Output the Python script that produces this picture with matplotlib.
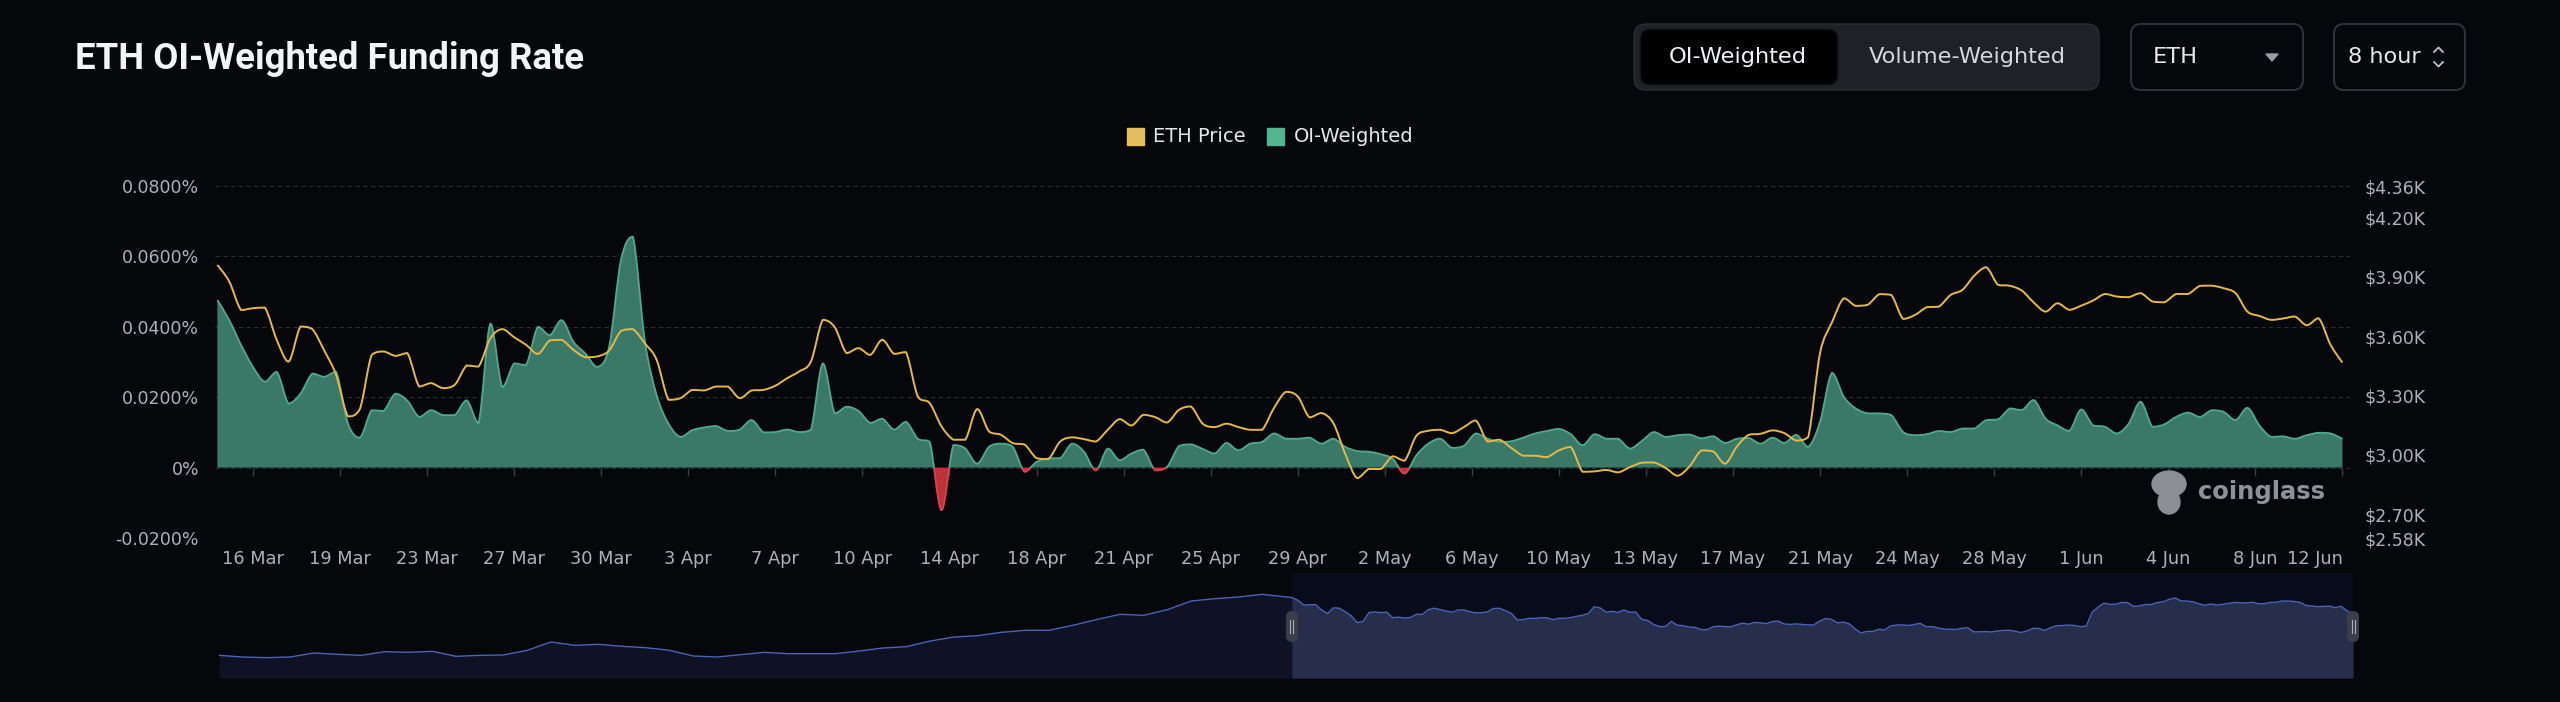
import matplotlib
matplotlib.use("Agg")
import matplotlib.pyplot as plt
import matplotlib.dates as mdates
from matplotlib.patches import FancyBboxPatch, Rectangle, PathPatch, Polygon, Ellipse
from matplotlib.path import Path
import numpy as np
import pandas as pd

# OI-weighted funding rate (% per 8h), one reading every 12 hours from 14 Mar 2024 12:00
funding = [
    0.0476, 0.0419, 0.0348, 0.0286, 0.0244, 0.0272, 0.0182, 0.0210, 0.0267, 0.0258,
    0.0272, 0.0125, 0.0085, 0.0163, 0.0161, 0.0210, 0.0190, 0.0144, 0.0163, 0.0149,
    0.0149, 0.0191, 0.0127, 0.0409, 0.0229, 0.0296, 0.0291, 0.0400, 0.0376, 0.0419,
    0.0357, 0.0324, 0.0286, 0.0343, 0.0590, 0.0656, 0.0362, 0.0206, 0.0125, 0.0087,
    0.0106, 0.0114, 0.0118, 0.0104, 0.0108, 0.0135, 0.0100,
    0.0101, 0.0108, 0.0101, 0.0108, 0.0296, 0.0154, 0.0173, 0.0161, 0.0127, 0.0139,
    0.0108, 0.0130, 0.0082, 0.0073, -0.0121, 0.0064, 0.0054, 0.0011, 0.0059, 0.0068,
    0.0059, -0.0012, 0.0016, 0.0026, 0.0027, 0.0068, 0.0045, -0.0008, 0.0054, 0.0021,
    0.0040, 0.0051, -0.0008, 0.0002, 0.0061, 0.0066, 0.0053, 0.0040, 0.0070, 0.0049,
    0.0068, 0.0073, 0.0097, 0.0082, 0.0082, 0.0085,
    0.0068, 0.0082, 0.0059, 0.0047, 0.0045, 0.0038, 0.0025, -0.0017, 0.0035, 0.0068,
    0.0082, 0.0056, 0.0062, 0.0097, 0.0082, 0.0073, 0.0075, 0.0085, 0.0097, 0.0104,
    0.0110, 0.0095, 0.0064, 0.0095, 0.0082, 0.0082, 0.0054, 0.0076, 0.0101, 0.0087,
    0.0092, 0.0094, 0.0083, 0.0089, 0.0070, 0.0082, 0.0084, 0.0068, 0.0085, 0.0070,
    0.0093, 0.0059, 0.0130, 0.0269, 0.0201, 0.0168,
    0.0154, 0.0154, 0.0149, 0.0101, 0.0092, 0.0095, 0.0104, 0.0101, 0.0111, 0.0111,
    0.0135, 0.0137, 0.0168, 0.0163, 0.0192, 0.0139, 0.0120, 0.0104, 0.0165, 0.0120,
    0.0116, 0.0097, 0.0125, 0.0187, 0.0116, 0.0123, 0.0144, 0.0156, 0.0144, 0.0163,
    0.0158, 0.0135, 0.0170, 0.0120, 0.0087, 0.0089, 0.0082, 0.0092, 0.0099, 0.0097,
    0.0082,
]

# ETH price ($), same timestamps
price = [
    3961, 3877, 3733, 3742, 3745, 3582, 3472, 3649, 3636, 3528,
    3405, 3195, 3232, 3506, 3523, 3501, 3515, 3346, 3363, 3338,
    3355, 3452, 3447, 3590, 3636, 3595, 3557, 3511, 3579, 3582,
    3531, 3494, 3498, 3528, 3627, 3636, 3565, 3481, 3279, 3287,
    3329, 3326, 3346, 3346, 3287, 3326, 3329,
    3350, 3388, 3422, 3473, 3683, 3646, 3515, 3540, 3506, 3582,
    3511, 3520, 3296, 3262, 3144, 3077, 3077, 3232, 3119, 3102,
    3060, 3052, 2984, 2979, 3068, 3089, 3080, 3068, 3127, 3181,
    3149, 3203, 3191, 3164, 3228, 3245, 3158, 3141, 3158, 3141,
    3127, 3127, 3237, 3319, 3296, 3190,
    3212, 3161, 3006, 2883, 2929, 2929, 2993, 2971, 3097, 3122,
    3127, 3110, 3141, 3174, 3068, 3077, 3035, 2996, 2996, 2989,
    3023, 3040, 2915, 2917, 2924, 2912, 2939, 2961, 2962, 2934,
    2895, 2942, 3023, 3018, 2956, 3043, 3102, 3107, 3124, 3110,
    3073, 3090, 3515, 3670, 3792, 3754,
    3759, 3813, 3809, 3688, 3708, 3747, 3750, 3809, 3835, 3907,
    3949, 3860, 3855, 3831, 3771, 3725, 3767, 3734, 3755, 3781,
    3814, 3801, 3798, 3818, 3776, 3772, 3814, 3814, 3855, 3856,
    3843, 3818, 3725, 3703, 3683, 3690, 3700, 3656, 3691, 3557,
    3467,
]

# older ETH price shown in the zoom slider, every 2 days from 15 Dec 2023
history_price = [
    2199, 2148, 2128, 2148, 2270, 2230, 2199, 2311, 2291, 2321,
    2169, 2199, 2209, 2352, 2606, 2504, 2535, 2474, 2433, 2352,
    2179, 2148, 2220, 2291, 2250, 2250, 2250, 2331, 2423, 2464,
    2636, 2758, 2799, 2901, 2962, 2962, 3114, 3287, 3450, 3419,
    3592, 3856, 3927, 3978, 4059,
]

tick_times = ["2024-03-16 00:00", "2024-03-19 16:00", "2024-03-23 08:00", "2024-03-27 00:00",
              "2024-03-30 16:00", "2024-04-03 08:00", "2024-04-07 00:00", "2024-04-10 16:00",
              "2024-04-14 08:00", "2024-04-18 00:00", "2024-04-21 16:00", "2024-04-25 08:00",
              "2024-04-29 00:00", "2024-05-02 16:00", "2024-05-06 08:00", "2024-05-10 00:00",
              "2024-05-13 16:00", "2024-05-17 08:00", "2024-05-21 00:00", "2024-05-24 16:00",
              "2024-05-28 08:00", "2024-06-01 00:00", "2024-06-04 16:00", "2024-06-08 08:00",
              "2024-06-12 00:00"]
left_ticks = [-0.02, 0, 0.02, 0.04, 0.06, 0.08]
left_labels = ["-0.0200%", "0%", "0.0200%", "0.0400%", "0.0600%", "0.0800%"]
right_ticks = [2580, 2700, 3000, 3300, 3600, 3900, 4200, 4360]
right_labels = ["$2.58K", "$2.70K", "$3.00K", "$3.30K", "$3.60K", "$3.90K", "$4.20K", "$4.36K"]

BG = "#05070b"
GRID = "#2a2d33"
TXT = "#aeb1b7"
YELLOW = "#e6b846"
GREEN_FILL = "#3a7868"
GREEN_LINE = "#4dab8c"
RED_FILL = "#be323c"
RED_LINE = "#e0404a"


def smooth_path(xs, ys):
    # cubic bezier through the points, control points kept inside each segment
    pts = np.column_stack([xs, ys]).astype(float)
    n = len(pts)
    verts = [pts[0]]
    codes = [Path.MOVETO]
    for i in range(n - 1):
        p0 = pts[max(i - 1, 0)]
        p1 = pts[i]
        p2 = pts[i + 1]
        p3 = pts[min(i + 2, n - 1)]
        c1 = p1 + (p2 - p0) / 6
        c2 = p2 - (p3 - p1) / 6
        lo, hi = min(p1[1], p2[1]), max(p1[1], p2[1])
        c1[1] = np.clip(c1[1], lo, hi)
        c2[1] = np.clip(c2[1], lo, hi)
        verts += [c1, c2, p2]
        codes += [Path.CURVE4] * 3
    return verts, codes


def main():
    plt.rcParams["font.family"] = ["DejaVu Sans"]
    fig = plt.figure(figsize=(25.6, 7.02), dpi=100, facecolor=BG)

    x_main = mdates.date2num(pd.date_range("2024-03-14 12:00", periods=len(funding), freq="12h"))
    x_hist = mdates.date2num(pd.date_range("2023-12-15", periods=len(history_price), freq="2D"))
    ticks = mdates.date2num(pd.to_datetime(tick_times))
    tick_labels = [f"{t.day} {t:%b}" for t in pd.to_datetime(tick_times)]

    # main chart
    ax = fig.add_axes([215 / 2560, 1 - 538 / 702, 2135 / 2560, 352 / 702])
    ax.set_facecolor(BG)
    ax.set_xlim(x_main[0] - 0.1, x_main[-1] + 0.32)
    ax.set_ylim(-0.02, 0.08)
    for s in ax.spines.values():
        s.set_visible(False)
    ax.spines["bottom"].set_position(("data", 0))
    ax.set_xticks(ticks)
    ax.tick_params(axis="x", direction="out", length=5.8, width=1, color="#3a3d44", labelbottom=False)
    ax.set_yticks(left_ticks, labels=left_labels)
    ax.tick_params(axis="y", length=0, pad=11.5, labelsize=12.5, labelcolor=TXT)
    ax.grid(axis="y", color=GRID, linestyle=(0, (4, 3)), linewidth=0.8)
    ax.set_axisbelow(True)

    sec = ax.secondary_xaxis("bottom")
    sec.set_xticks(ticks, labels=tick_labels)
    sec.tick_params(length=0, pad=9, labelsize=12.8, labelcolor=TXT)
    sec.spines["bottom"].set_visible(False)
    sec.get_xticklabels()[-1].set_ha("right")

    verts, codes = smooth_path(x_main, funding)
    area = Path(verts + [(x_main[-1], 0), (x_main[0], 0), (x_main[0], 0)],
                codes + [Path.LINETO, Path.LINETO, Path.CLOSEPOLY])
    line = Path(verts, codes)
    x0, x1 = ax.get_xlim()
    for fc, lc, y0 in [(GREEN_FILL, GREEN_LINE, 0), (RED_FILL, RED_LINE, -1)]:
        clip = Rectangle((x0, y0), x1 - x0, 1, transform=ax.transData)
        p = PathPatch(area, facecolor=fc, edgecolor="none", zorder=2)
        ax.add_patch(p)
        p.set_clip_path(clip)
        e = PathPatch(line, facecolor="none", edgecolor=lc, lw=1.3, zorder=3)
        ax.add_patch(e)
        e.set_clip_path(clip)

    twin = ax.twinx()
    for s in twin.spines.values():
        s.set_visible(False)
    pv, pc = smooth_path(x_main, price)
    twin.add_patch(PathPatch(Path(pv, pc), facecolor="none", edgecolor=YELLOW, lw=1.4, zorder=4))
    twin.set_xlim(x0, x1)
    twin.set_ylim(2580, 4360)
    twin.set_yticks(right_ticks, labels=right_labels)
    twin.tick_params(axis="y", length=0, pad=10.8, labelsize=12.5, labelcolor=TXT)

    # zoom slider below
    slider = fig.add_axes([219 / 2560, 1 - 678 / 702, 2134 / 2560, 105 / 702])
    slider.set_facecolor(BG)
    slider.set_xlim(x_hist[0], x_main[-1])
    slider.set_ylim(1508, 4710)
    slider.axis("off")
    sx = np.concatenate([x_hist, x_main])
    sy = np.concatenate([history_price, price])
    slider.axvspan(x_main[0], x_main[-1], color="#080c1a", zorder=0)
    slider.fill_between(sx, sy, 1508, color="#0e1224", lw=0, zorder=1)
    sel = sx >= x_main[0]
    slider.fill_between(sx[sel], sy[sel], 1508, color="#262e4c", lw=0, zorder=2)
    slider.plot(sx, sy, color="#4b63b8", lw=1, zorder=3)

    # page decorations in pixel coordinates
    ui = fig.add_axes([0, 0, 1, 1], zorder=5)
    ui.set_xlim(0, 2560)
    ui.set_ylim(702, 0)
    ui.axis("off")
    ui.patch.set_visible(False)

    ui.text(75, 69, "ETH OI-Weighted Funding Rate", color="#f2f4f7", fontsize=26.3,
            family="Roboto", weight="bold", va="baseline")

    ui.add_patch(FancyBboxPatch((1634, 24), 465, 66, boxstyle="round,pad=0,rounding_size=12",
                                fc="#1e2126", ec="#2a2d33", lw=1))
    ui.add_patch(FancyBboxPatch((1640, 29), 198, 56, boxstyle="round,pad=0,rounding_size=10",
                                fc="#000000", ec="#17191d", lw=1))
    ui.text(1738, 57, "OI-Weighted", color="#f0f2f5", fontsize=16.2, ha="center", va="center")
    ui.text(1967, 57, "Volume-Weighted", color="#d5d8de", fontsize=16.2, ha="center", va="center")

    ui.add_patch(FancyBboxPatch((2131, 24), 172, 66, boxstyle="round,pad=0,rounding_size=10",
                                fc=BG, ec="#2e3138", lw=1.5))
    ui.text(2153, 57, "ETH", color="#e6e8ec", fontsize=16.2, va="center")
    ui.add_patch(Polygon([(2266, 54), (2278, 54), (2272, 61)], closed=True, color="#9a9ea6"))

    ui.add_patch(FancyBboxPatch((2334, 24), 131, 66, boxstyle="round,pad=0,rounding_size=10",
                                fc=BG, ec="#2e3138", lw=1.5))
    ui.text(2348, 57, "8 hour", color="#e6e8ec", fontsize=16.2, va="center")
    ui.plot([2434, 2438.5, 2443], [52, 47.5, 52], color="#c8ccd2", lw=1.2)
    ui.plot([2434, 2438.5, 2443], [62, 66.5, 62], color="#c8ccd2", lw=1.2)

    # legend
    ui.add_patch(Rectangle((1127, 128), 17, 17, color="#e4be5a"))
    ui.text(1153, 137, "ETH Price", color="#e4e6ea", fontsize=14, va="center")
    ui.add_patch(Rectangle((1267, 128), 17, 17, color="#54b48f"))
    ui.text(1294, 137, "OI-Weighted", color="#e4e6ea", fontsize=14, va="center")

    # watermark
    ui.add_patch(Ellipse((2169, 484), 34, 26, color="#8c8e93"))
    ui.add_patch(Ellipse((2169, 502), 22, 24, color="#8c8e93"))
    ui.text(2198, 492, "coinglass", color="#8f9196", fontsize=17.5, weight="bold", va="center")

    # slider handles at both ends of the selected window
    for hx in (x_main[0], x_main[-1]):
        px = slider.transData.transform((hx, 2000))[0]
        ui.add_patch(FancyBboxPatch((px - 6, 611), 12, 31, boxstyle="round,pad=0,rounding_size=6",
                                    fc="#3a3e4a", ec="none"))
        ui.plot([px - 1.5, px - 1.5], [620, 633], color="#a8adb8", lw=0.8)
        ui.plot([px + 1.5, px + 1.5], [620, 633], color="#a8adb8", lw=0.8)

    fig.savefig("out.png", dpi=100, facecolor=BG)


if __name__ == "__main__":
    main()
